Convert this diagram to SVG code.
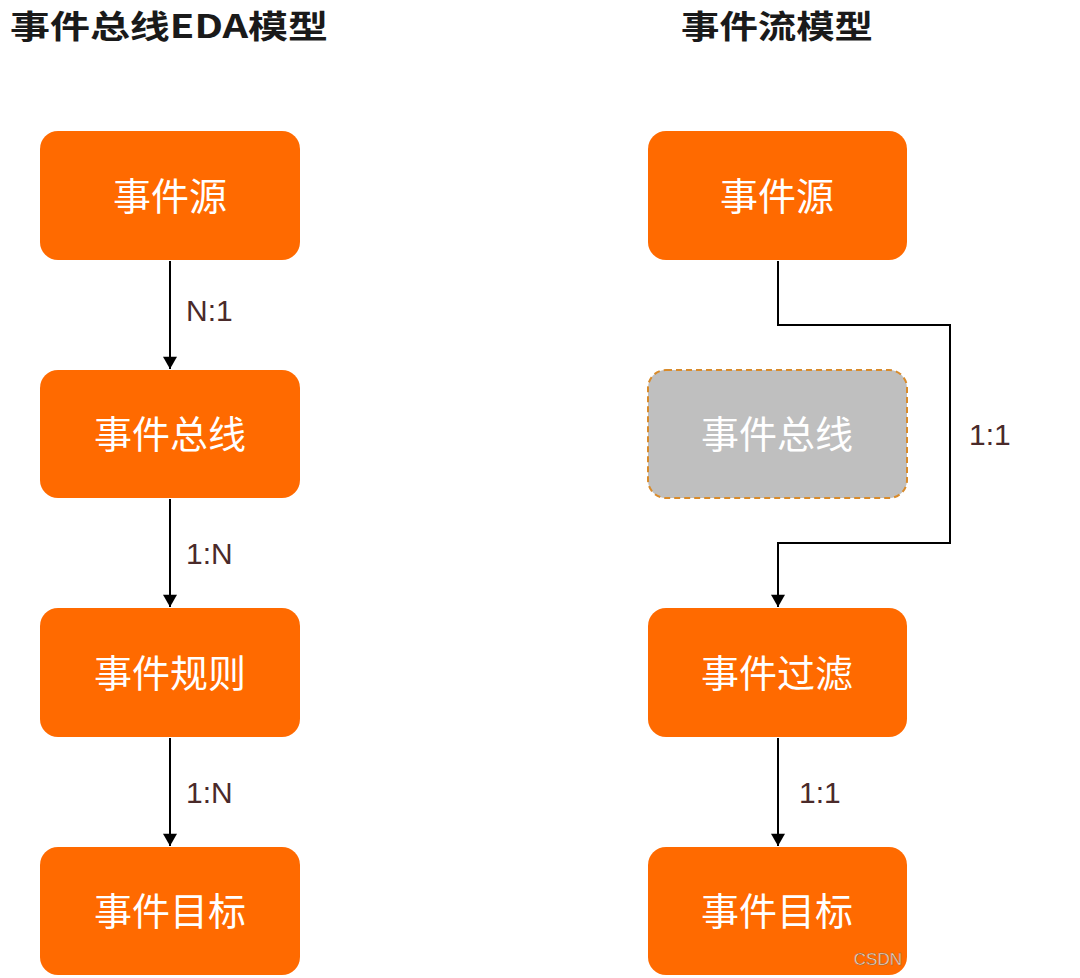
<svg xmlns="http://www.w3.org/2000/svg" width="1080" height="978" viewBox="0 0 1080 978">
<style>
.box{fill:#FF6A00;}
.bt{font-family:"Noto Sans CJK SC","Noto Sans",sans-serif;font-size:38px;fill:#FFFFFF;text-anchor:middle;dominant-baseline:central;}
.title{font-family:"Noto Sans CJK SC","Noto Sans",sans-serif;font-size:32px;font-weight:bold;fill:#1A1A1A;}
.lbl{font-family:"Liberation Sans",Arial,sans-serif;font-size:30px;fill:#4A2A2A;}
.ln{fill:none;stroke:#000;stroke-width:2;}
</style>
<defs>
<marker id="arr" viewBox="0 0 14 16" refX="14" refY="8" markerWidth="16" markerHeight="14" markerUnits="userSpaceOnUse" orient="auto">
<path d="M0,0 L14,8 L0,16 z" fill="#000"/>
</marker>
</defs>
<rect width="1080" height="978" fill="#FFFFFF"/>
<text class="title" x="10" y="38" textLength="318" lengthAdjust="spacingAndGlyphs">事件总线EDA模型</text>
<text class="title" x="681" y="38" textLength="192" lengthAdjust="spacingAndGlyphs">事件流模型</text>
<g id="connectors">
<path class="ln" d="M170,261 V369" marker-end="url(#arr)"/>
<path class="ln" d="M170,499 V607" marker-end="url(#arr)"/>
<path class="ln" d="M170,738 V846" marker-end="url(#arr)"/>
<path class="ln" d="M778,261 V325 H950 V543 H778 V607" marker-end="url(#arr)"/>
<path class="ln" d="M778,738 V846" marker-end="url(#arr)"/>
<text class="lbl" x="186" y="321">N:1</text>
<text class="lbl" x="186" y="564">1:N</text>
<text class="lbl" x="186" y="803">1:N</text>
<text class="lbl" x="969" y="445">1:1</text>
<text class="lbl" x="799" y="803">1:1</text>
</g>
<g id="l-source"><rect class="box" x="40" y="131" width="260" height="129" rx="18"/><text class="bt" x="170" y="193">事件源</text></g>
<g id="l-bus"><rect class="box" x="40" y="370" width="260" height="128" rx="18"/><text class="bt" x="170" y="431">事件总线</text></g>
<g id="l-rule"><rect class="box" x="40" y="608" width="260" height="129" rx="18"/><text class="bt" x="170" y="670">事件规则</text></g>
<g id="l-target"><rect class="box" x="40" y="847" width="260" height="128" rx="18"/><text class="bt" x="170" y="908">事件目标</text></g>
<g id="r-source"><rect class="box" x="648" y="131" width="259" height="129" rx="18"/><text class="bt" x="777" y="193">事件源</text></g>
<g id="r-bus"><rect x="648" y="370" width="259" height="128" rx="18" fill="#BFBFBF" stroke="#D98B2B" stroke-width="2" stroke-dasharray="6,4"/><text class="bt" x="777" y="431">事件总线</text></g>
<g id="r-filter"><rect class="box" x="648" y="608" width="259" height="129" rx="18"/><text class="bt" x="777" y="670">事件过滤</text></g>
<g id="r-target"><rect class="box" x="648" y="847" width="259" height="128" rx="18"/><text class="bt" x="777" y="908">事件目标</text></g>
<text x="902" y="965" text-anchor="end" font-family="Liberation Sans,Arial,sans-serif" font-size="17" fill="#F2DCC8" stroke="#8A5A3A" stroke-width="0.4">CSDN</text>
</svg>
